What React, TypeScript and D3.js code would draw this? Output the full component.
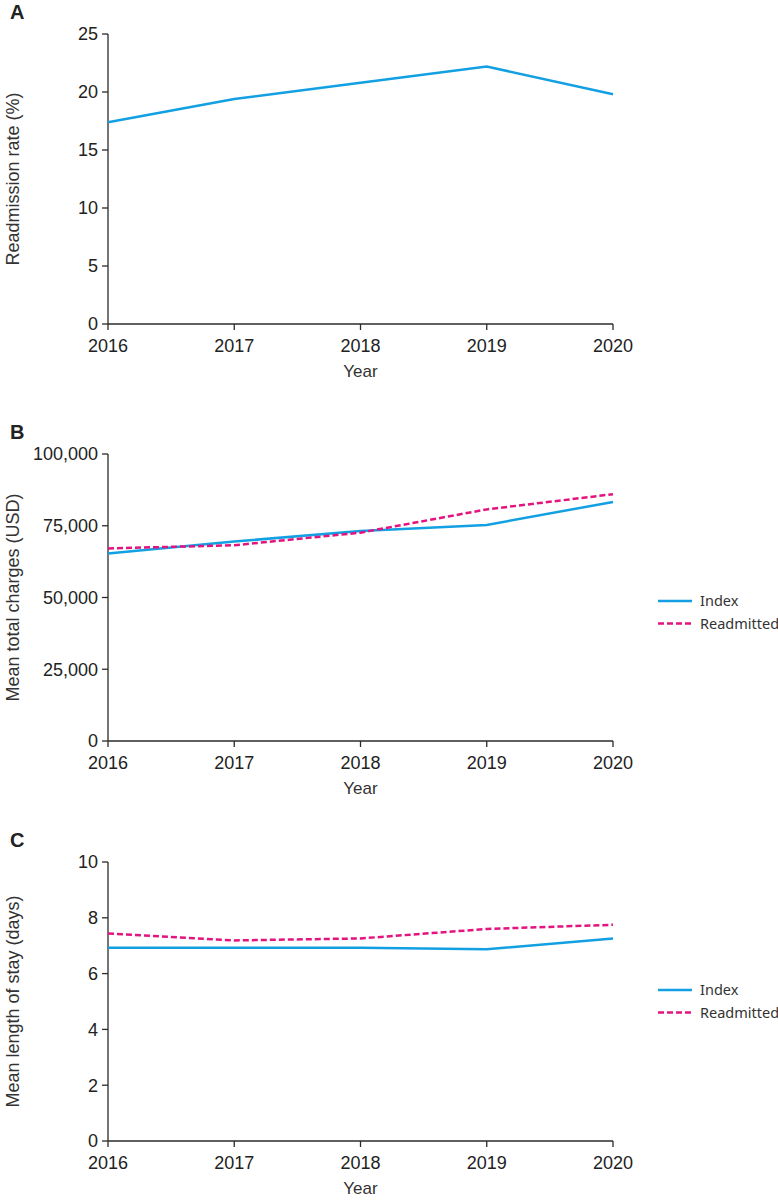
import * as React from 'react';
import {useEffect} from 'react';
import {scaleLinear, line, format} from 'd3';

const years = [2016, 2017, 2018, 2019, 2020];

const readmissionRate = [17.4, 19.4, 20.8, 22.2, 19.8];

const chargesIndex = [65300, 69500, 73200, 75300, 83300];
const chargesReadmitted = [67100, 68200, 72600, 80700, 86000];

const losIndex = [6.93, 6.93, 6.93, 6.87, 7.26];
const losReadmitted = [7.44, 7.19, 7.26, 7.6, 7.75];

const ticksA = [0, 5, 10, 15, 20, 25];
const ticksB = [0, 25000, 50000, 75000, 100000];
const ticksC = [0, 2, 4, 6, 8, 10];

const seriesNames = ['Index', 'Readmitted'];

const width = 778;
const height = 1203;
const x0 = 108;
const x1 = 613;
const blue = '#12a0e3';
const pink = '#e3137f';
const axisColor = '#2b2b2b';
const tickFont = '"Liberation Sans", Arial, sans-serif';
const labelFont = '"Liberation Sans", Arial, sans-serif';
const legendFont = '"Noto Sans", "Open Sans", sans-serif';

const xScale = scaleLinear().domain([2016, 2020]).range([x0, x1]);

const Panel = ({letter, top, bottom, maxY, ticks, tickFmt, yLabel, series, legendY}) => {
    const yScale = scaleLinear().domain([0, maxY]).range([bottom, top]);
    const path = line<number>()
        .x((d, i) => xScale(years[i]))
        .y(d => yScale(d));
    return (
        <g>
            <text x={10} y={top - 15} fontFamily='"Liberation Sans", Arial, sans-serif'
                  fontWeight="bold" fontSize={20} fill="#222">{letter}</text>
            <line x1={x0} x2={x0} y1={top} y2={bottom} stroke={axisColor} strokeWidth={1.3}/>
            <line x1={x0} x2={x1} y1={bottom} y2={bottom} stroke={axisColor} strokeWidth={1.3}/>
            {ticks.map(t =>
                <g key={t}>
                    <line x1={x0 - 6} x2={x0} y1={yScale(t)} y2={yScale(t)} stroke={axisColor} strokeWidth={1.3}/>
                    <text x={x0 - 10} y={yScale(t)} dy="0.36em" textAnchor="end"
                          fontFamily={tickFont} fontSize={18} fill="#222">{tickFmt(t)}</text>
                </g>
            )}
            {years.map(yr =>
                <g key={yr}>
                    <line x1={xScale(yr)} x2={xScale(yr)} y1={bottom} y2={bottom + 6} stroke={axisColor} strokeWidth={1.3}/>
                    <text x={xScale(yr)} y={bottom + 28} textAnchor="middle"
                          fontFamily={tickFont} fontSize={18} fill="#222">{yr}</text>
                </g>
            )}
            <text x={(x0 + x1) / 2} y={bottom + 53} textAnchor="middle"
                  fontFamily={labelFont} fontSize={17} fill="#333">Year</text>
            <text transform={`translate(19,${(top + bottom) / 2}) rotate(-90)`} textAnchor="middle"
                  fontFamily={labelFont} fontSize={18} fill="#333">{yLabel}</text>
            {series.map((s, i) =>
                <path key={i} d={path(s.values) || ''} fill="none" stroke={s.color}
                      strokeWidth={2.5} strokeDasharray={s.dash || null}/>
            )}
            {legendY != null && series.map((s, i) =>
                <g key={'lg' + i} transform={`translate(658,${legendY + i * 22.5})`}>
                    <line x1={0} x2={34} y1={0} y2={0} stroke={s.color} strokeWidth={2.5}
                          strokeDasharray={s.dash || null}/>
                    <text x={42} y={0} dy="0.35em" fontFamily={legendFont} fontSize={14.5} fill="#333">{s.name}</text>
                </g>
            )}
        </g>
    );
};

const App = () => {
    useEffect(() => {
        document.body.style.margin = '0';
    }, []);
    const fmt = format(',');
    return (
        <svg width={width} height={height} style={{display: 'block', background: '#fff'}}>
            <Panel letter="A" top={34} bottom={324} maxY={25} ticks={ticksA} tickFmt={fmt}
                   yLabel="Readmission rate (%)"
                   series={[{name: 'Readmission', values: readmissionRate, color: blue}]}/>
            <Panel letter="B" top={454} bottom={741} maxY={100000} ticks={ticksB} tickFmt={fmt}
                   yLabel="Mean total charges (USD)" legendY={601}
                   series={[
                       {name: seriesNames[0], values: chargesIndex, color: blue},
                       {name: seriesNames[1], values: chargesReadmitted, color: pink, dash: '6,3'}
                   ]}/>
            <Panel letter="C" top={862} bottom={1141} maxY={10} ticks={ticksC} tickFmt={fmt}
                   yLabel="Mean length of stay (days)" legendY={990}
                   series={[
                       {name: seriesNames[0], values: losIndex, color: blue},
                       {name: seriesNames[1], values: losReadmitted, color: pink, dash: '6,3'}
                   ]}/>
        </svg>
    );
};

export default App;
